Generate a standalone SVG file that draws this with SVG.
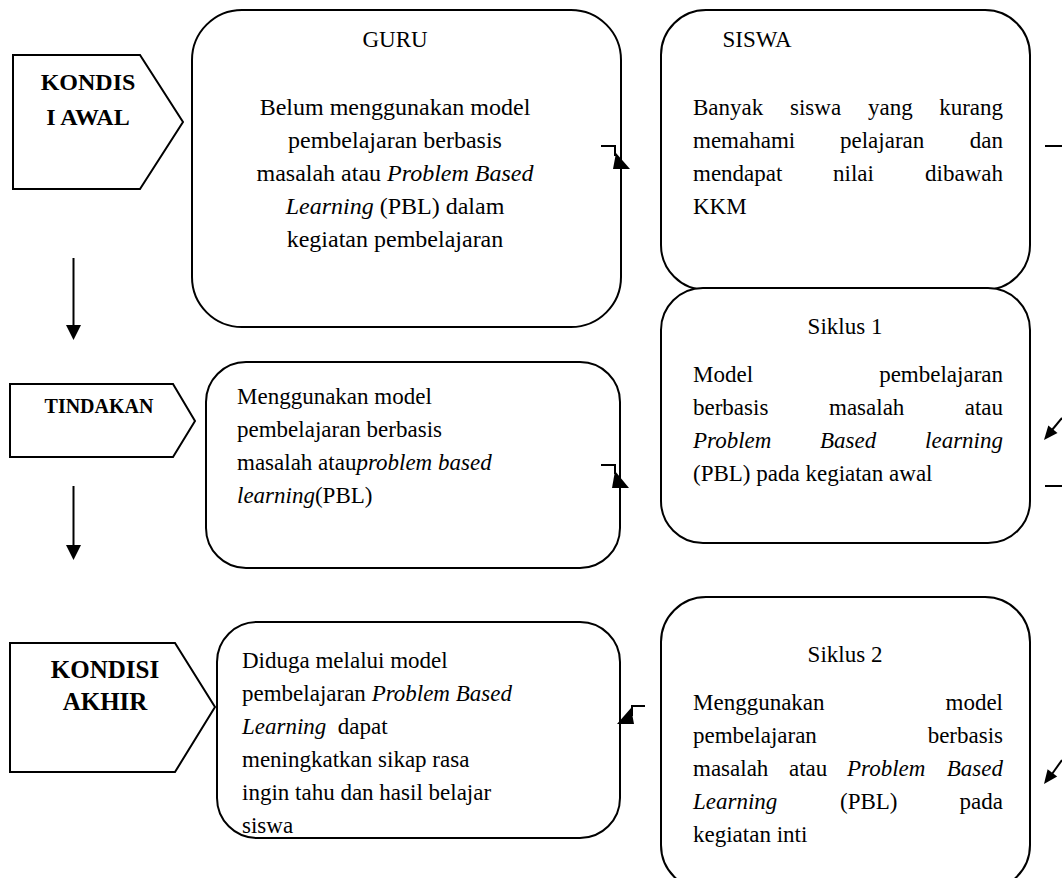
<svg xmlns="http://www.w3.org/2000/svg" width="1062" height="878" viewBox="0 0 1062 878" font-family="Liberation Serif, Times New Roman, serif">
<style>
.box{fill:#fff;stroke:#000;stroke-width:2}
.pent{fill:#fff;stroke:#000;stroke-width:2}
.ln{fill:none;stroke:#000;stroke-width:2}
.hd{fill:#000;stroke:none}
text{font-family:"Liberation Serif","Times New Roman",serif;font-size:23px;fill:#000}
.g{font-size:24px}
.b{font-weight:bold;font-size:24px}
.b2{font-weight:bold;font-size:25px}
.bs{font-weight:bold;font-size:20px}
.i{font-style:italic}
.m{text-anchor:middle}
.e{text-anchor:end}
</style>
<rect width="1062" height="878" fill="#fff"/>

<g id="kondisi-awal">
<polygon class="pent" points="13,55 140,55 183,122 140,189 13,189"/>
<text class="b m" x="88" y="90">KONDIS</text>
<text class="b m" x="88" y="125">I AWAL</text>
</g>

<g id="tindakan">
<polygon class="pent" points="10,384 173,384 195,421 173,457 10,457"/>
<text class="bs m" x="99" y="413">TINDAKAN</text>
</g>

<g id="kondisi-akhir">
<polygon class="pent" points="10,643 175,643 215,707 175,772 10,772"/>
<text class="b2 m" x="105" y="678">KONDISI</text>
<text class="b2 m" x="105" y="710">AKHIR</text>
</g>

<g id="guru">
<rect class="box" x="192" y="10" width="429" height="317" rx="50" ry="50"/>
<text class="m" x="395" y="47">GURU</text>
<text class="g m" x="395" y="115">Belum menggunakan model</text>
<text class="g m" x="395" y="148">pembelajaran berbasis</text>
<text class="g m" x="395" y="181">masalah atau <tspan class="i">Problem Based</tspan></text>
<text class="g m" x="395" y="214"><tspan class="i">Learning</tspan> (PBL) dalam</text>
<text class="g m" x="395" y="247">kegiatan pembelajaran</text>
</g>

<g id="siswa">
<rect class="box" x="661" y="10" width="369" height="280" rx="45" ry="45"/>
<text class="m" x="757" y="47">SISWA</text>
<text x="693" y="115">Banyak</text><text x="790" y="115">siswa</text><text x="868" y="115">yang</text><text class="e" x="1003" y="115">kurang</text>
<text x="693" y="148">memahami</text><text x="840" y="148">pelajaran</text><text class="e" x="1003" y="148">dan</text>
<text x="693" y="181">mendapat</text><text x="833" y="181">nilai</text><text class="e" x="1003" y="181">dibawah</text>
<text x="693" y="214">KKM</text>
</g>

<g id="tindakan-guru">
<rect class="box" x="206" y="362" width="414" height="206" rx="40" ry="40"/>
<text x="237" y="404">Menggunakan model</text>
<text x="237" y="437">pembelajaran berbasis</text>
<text x="237" y="470">masalah atau<tspan class="i">problem based</tspan></text>
<text x="237" y="503"><tspan class="i">learning</tspan>(PBL)</text>
</g>

<g id="siklus1">
<rect class="box" x="661" y="288" width="369" height="255" rx="42" ry="42"/>
<text class="m" x="845" y="334">Siklus 1</text>
<text x="693" y="382">Model</text><text class="e" x="1003" y="382">pembelajaran</text>
<text x="693" y="415">berbasis</text><text x="829" y="415">masalah</text><text class="e" x="1003" y="415">atau</text>
<text class="i" x="693" y="448">Problem</text><text class="i" x="820" y="448">Based</text><text class="i e" x="1003" y="448">learning</text>
<text x="693" y="481">(PBL) pada kegiatan awal</text>
</g>

<g id="kondisi-akhir-box">
<rect class="box" x="217" y="622" width="403" height="216" rx="40" ry="40"/>
<text x="242" y="668">Diduga melalui model</text>
<text x="242" y="701">pembelajaran <tspan class="i">Problem Based</tspan></text>
<text x="242" y="734" xml:space="preserve"><tspan class="i">Learning</tspan>  dapat</text>
<text x="242" y="767">meningkatkan sikap rasa</text>
<text x="242" y="800">ingin tahu dan hasil belajar</text>
<text x="242" y="833">siswa</text>
</g>

<g id="siklus2">
<rect class="box" x="661" y="597" width="369" height="293" rx="45" ry="45"/>
<text class="m" x="845" y="662">Siklus 2</text>
<text x="693" y="710">Menggunakan</text><text class="e" x="1003" y="710">model</text>
<text x="693" y="743">pembelajaran</text><text class="e" x="1003" y="743">berbasis</text>
<text x="693" y="776">masalah</text><text x="789" y="776">atau</text><text class="i" x="847" y="776">Problem</text><text class="i e" x="1003" y="776">Based</text>
<text class="i" x="693" y="809">Learning</text><text x="840" y="809">(PBL)</text><text class="e" x="1003" y="809">pada</text>
<text x="693" y="842">kegiatan inti</text>
</g>

<g id="connectors">
<line class="ln" x1="73.5" y1="258" x2="73.5" y2="327"/>
<polygon class="hd" points="66,325 81,325 73.5,340"/>
<line class="ln" x1="73.5" y1="486" x2="73.5" y2="547"/>
<polygon class="hd" points="66,545 81,545 73.5,560"/>

<polyline class="ln" points="601,146 615,146 615,156"/>
<polygon class="hd" points="613,169 630,169 616,153"/>
<polyline class="ln" points="601,465 615,465 615,474"/>
<polygon class="hd" points="612,488 629,488 615,471"/>
<polyline class="ln" points="645,706 632,706 632,716"/>
<polygon class="hd" points="634,724 617,724 631,708"/>

<line class="ln" x1="1045" y1="146" x2="1062" y2="146"/>
<line class="ln" x1="1062" y1="418" x2="1052" y2="430"/>
<polygon class="hd" points="1044,440 1057.5,433 1048.3,425.4"/>
<line class="ln" x1="1045" y1="486" x2="1062" y2="486"/>
<line class="ln" x1="1062" y1="760" x2="1052" y2="774"/>
<polygon class="hd" points="1044,784 1057.2,776.4 1047.6,769.2"/>
</g>
</svg>
